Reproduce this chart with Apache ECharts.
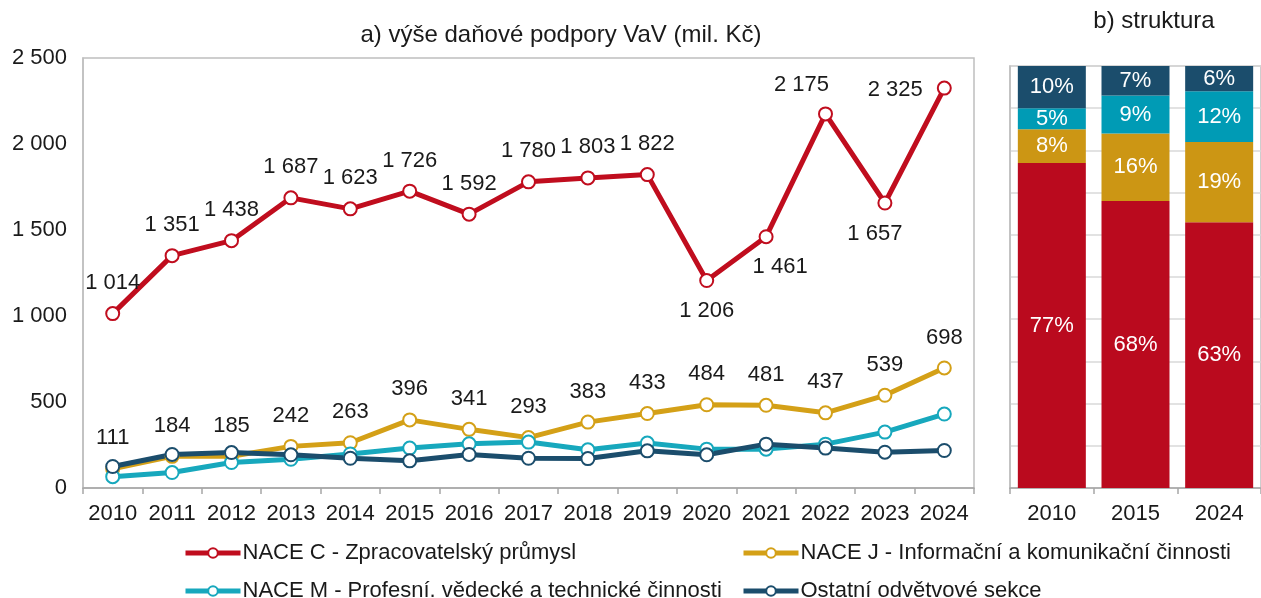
<!DOCTYPE html>
<html>
<head>
<meta charset="utf-8">
<script src="https://cdn.jsdelivr.net/npm/echarts@6/dist/echarts.min.js"></script>
<style>
  html, body { margin: 0; padding: 0; background: #fff; }
  #chart { width: 1261px; height: 598px; }
</style>
</head>
<body>
<div id="chart"></div>
<script>
// a) line chart values (mil. Kč)
const years = ['2010', '2011', '2012', '2013', '2014', '2015', '2016', '2017', '2018', '2019', '2020', '2021', '2022', '2023', '2024'];
const naceC = [1014, 1351, 1438, 1687, 1623, 1726, 1592, 1780, 1803, 1822, 1206, 1461, 2175, 1657, 2325];
const naceJ = [111, 184, 185, 242, 263, 396, 341, 293, 383, 433, 484, 481, 437, 539, 698];
const naceM = [66, 90, 148, 167, 198, 232, 257, 267, 222, 261, 226, 226, 255, 325, 430];
const ostatni = [125, 195, 206, 193, 173, 158, 195, 173, 171, 216, 193, 255, 232, 208, 218];

// b) structure (%)
const structYears = ['2010', '2015', '2024'];
const shareC = [77, 68, 63];
const shareJ = [8, 16, 19];
const shareM = [5, 9, 12];
const shareO = [10, 7, 6];

const names = [
    'NACE C - Zpracovatelský průmysl',
    'NACE J - Informační a komunikační činnosti',
    'NACE M - Profesní. vědecké a technické činnosti',
    'Ostatní odvětvové sekce'
];
const colors = ['#C00D1E', '#D4A017', '#17A8BD', '#1B4D6C'];
const barColors = ['#BA0A1E', '#CC9614', '#009BB5', '#1B4D6C'];

const FONT = 'Liberation Sans, Arial, sans-serif';
const FS = 22;
const fmt = v => String(v).replace(/\B(?=(\d{3})+(?!\d))/g, ' ');

// label placement tweaks for NACE C (by index)
const cLabelTweak = {
    10: { position: 'bottom' },
    11: { position: 'bottom', offset: [14, 0] },
    12: { position: 'top', offset: [-24, 2] },
    13: { position: 'bottom', offset: [-10, 0] },
    14: { position: 'left', offset: [-2, 2] }
};

const cData = naceC.map((v, i) => cLabelTweak[i] ? { value: v, label: cLabelTweak[i] } : v);

const lineSeries = (name, data, color, withLabel) => ({
    name: name,
    type: 'line',
    xAxisIndex: 0,
    yAxisIndex: 0,
    data: data,
    symbol: 'circle',
    symbolSize: 13,
    lineStyle: { color: color, width: 5 },
    itemStyle: { color: '#fff', borderColor: color, borderWidth: 2 },
    label: {
        show: withLabel,
        position: 'top',
        distance: 12,
        color: '#1a1a1a',
        fontSize: FS,
        fontFamily: FONT,
        formatter: p => fmt(p.value)
    },
    emphasis: { disabled: true },
    z: 3
});

const barSeries = (name, data, color) => ({
    name: name + ' ',
    type: 'bar',
    stack: 'share',
    xAxisIndex: 1,
    yAxisIndex: 1,
    data: data,
    barWidth: 68,
    itemStyle: { color: color },
    label: {
        show: true,
        position: 'inside',
        color: '#fff',
        fontSize: FS,
        fontFamily: FONT,
        formatter: '{c}%'
    },
    emphasis: { disabled: true }
});

const legendItem = (name, left, top) => ({
    data: [name],
    left: left,
    top: top,
    itemWidth: 55,
    itemHeight: 12,
    itemGap: 0,
    lineStyle: { width: 5 },
    textStyle: { fontSize: FS, color: '#1a1a1a', fontFamily: FONT, padding: [0, 0, 0, -3] },
    selectedMode: false
});

const chart = echarts.init(document.getElementById('chart'));

const axisLabelStyle = { fontSize: FS, color: '#1a1a1a', fontFamily: FONT };

const option = {
    animation: false,
    textStyle: { fontFamily: FONT },
    title: [
        {
            text: 'a) výše daňové podpory VaV (mil. Kč)',
            left: 556, top: 18, textAlign: 'center',
            textStyle: { fontSize: 24, fontWeight: 'normal', color: '#1a1a1a', fontFamily: FONT }
        },
        {
            text: 'b) struktura',
            left: 1149, top: 4, textAlign: 'center',
            textStyle: { fontSize: 24, fontWeight: 'normal', color: '#1a1a1a', fontFamily: FONT }
        }
    ],
    legend: [
        legendItem(names[0], 178, 537),
        legendItem(names[1], 736, 537),
        legendItem(names[2], 178, 575),
        legendItem(names[3], 736, 575)
    ],
    grid: [
        { left: 83, top: 58, width: 891, height: 430, show: true, borderColor: '#BFBFBF', borderWidth: 1.5 },
        { left: 1010, top: 66, width: 258, height: 422, show: true, borderColor: '#BFBFBF', borderWidth: 1.5 }
    ],
    xAxis: [
        {
            type: 'category', gridIndex: 0, data: years,
            axisLine: { lineStyle: { color: '#A6A6A6', width: 1.5 } },
            axisTick: { show: true, interval: 0, length: 6, lineStyle: { color: '#A6A6A6', width: 1.5 } },
            axisLabel: Object.assign({ margin: 15, interval: 0 }, axisLabelStyle)
        },
        {
            type: 'category', gridIndex: 1, data: structYears,
            axisLine: { lineStyle: { color: '#A6A6A6', width: 1.5 } },
            axisTick: { show: true, interval: 0, length: 6, lineStyle: { color: '#A6A6A6', width: 1.5 } },
            axisLabel: Object.assign({ margin: 15, interval: 0 }, axisLabelStyle)
        }
    ],
    yAxis: [
        {
            type: 'value', gridIndex: 0, min: 0, max: 2500, interval: 500,
            axisLine: { show: true, lineStyle: { color: '#BFBFBF', width: 1.5 } },
            axisTick: { show: false },
            splitLine: { show: false },
            axisLabel: Object.assign({ margin: 16, formatter: v => fmt(v) }, axisLabelStyle)
        },
        {
            type: 'value', gridIndex: 1, min: 0, max: 100, interval: 10,
            axisLine: { show: true, lineStyle: { color: '#BFBFBF', width: 1.5 } },
            axisTick: { show: false },
            axisLabel: { show: false },
            splitLine: { show: true, lineStyle: { color: '#D9D9D9', width: 1.5 } }
        }
    ],
    series: [
        lineSeries(names[0], cData, colors[0], true),
        lineSeries(names[1], naceJ, colors[1], true),
        lineSeries(names[2], naceM, colors[2], false),
        lineSeries(names[3], ostatni, colors[3], false),
        barSeries(names[0], shareC, barColors[0]),
        barSeries(names[1], shareJ, barColors[1]),
        barSeries(names[2], shareM, barColors[2]),
        barSeries(names[3], shareO, barColors[3])
    ]
};

chart.setOption(option);
</script>
</body>
</html>
